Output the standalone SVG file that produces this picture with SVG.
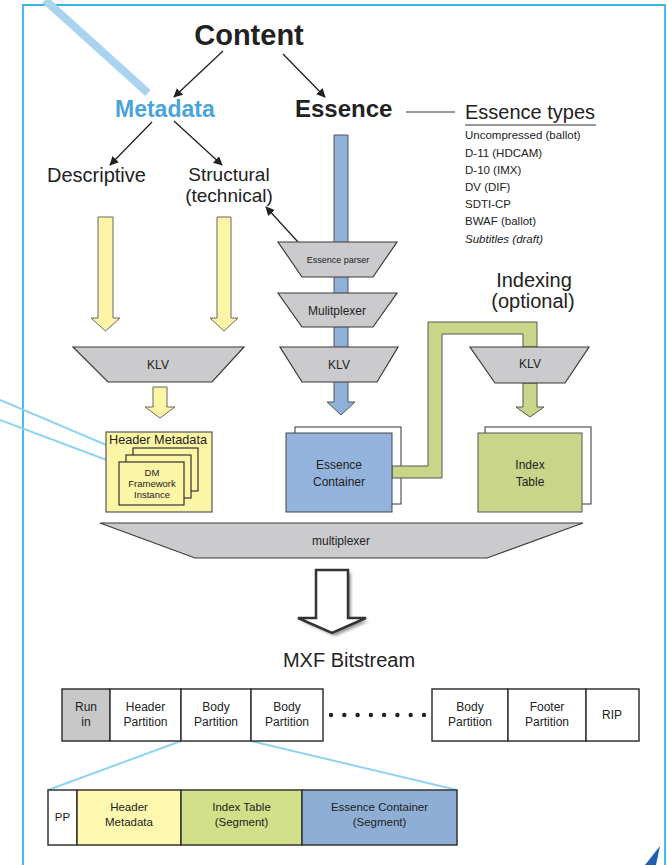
<svg xmlns="http://www.w3.org/2000/svg" width="667" height="865" viewBox="0 0 667 865">
<defs>
<style>
text{font-family:"Liberation Sans",Arial,sans-serif;fill:#222}
.trap{fill:#cbcbcd;stroke:#3a3a3a;stroke-width:1.2}
.yel{fill:#fdf5a6;stroke:#666;stroke-width:1}
.grn{fill:#c9d68a;stroke:#555;stroke-width:1}
.blu{fill:#93b3dc;stroke:#444;stroke-width:1}
.sheet{fill:#fff;stroke:#333;stroke-width:1}
.cell{stroke:#333;stroke-width:1.5}
.conn{stroke:#222;stroke-width:1.3;fill:none;marker-end:url(#ah)}
.lb{stroke:#8fd3f3;stroke-width:2;fill:none}
.c{text-anchor:middle}
</style>
<marker id="ah" viewBox="0 0 10 10" refX="9" refY="5" markerWidth="9" markerHeight="9" markerUnits="userSpaceOnUse" orient="auto"><path d="M0,0 L10,5 L0,10 Z" fill="#222"/></marker>
<filter id="sh" x="-20%" y="-20%" width="150%" height="150%"><feGaussianBlur stdDeviation="1.5"/></filter>
</defs>
<rect width="667" height="865" fill="#fff"/>
<g id="frame">
<path d="M23,865 L23,5 L665,5 L665,865" fill="none" stroke="#33b5ea" stroke-width="1.8"/>
<line x1="45" y1="0" x2="148" y2="93" stroke="#a9d3ef" stroke-width="8"/>
<polygon points="645,865 660,846 656,865" fill="#1f5fb0"/>
</g>
<g id="connectors">
<line class="conn" x1="223" y1="51" x2="174" y2="97"/>
<line class="conn" x1="283" y1="54" x2="325" y2="97"/>
<line class="conn" x1="152" y1="122" x2="110" y2="165"/>
<line class="conn" x1="174" y1="121" x2="222" y2="165"/>
<line class="conn" x1="298" y1="242" x2="266" y2="207"/>
<line x1="406" y1="112" x2="455" y2="112" stroke="#333" stroke-width="1"/>
<path class="yel" d="M98,217 L113,217 L113,318 L120,318 L105.5,331 L91,318 L98,318 Z"/>
<path class="yel" d="M217,217 L231,217 L231,318 L238,318 L224,331 L210,318 L217,318 Z"/>
<path class="yel" d="M153,387 L167,387 L167,407 L175,407 L160,418 L145,407 L153,407 Z"/>
<path d="M334,135 L348,135 L348,402 L355,402 L341,415 L327,402 L334,402 Z" fill="#8fb0d9" stroke="#555" stroke-width="1"/>
<path class="grn" d="M523,383 L537,383 L537,407 L544,407 L530,417 L516,407 L523,407 Z"/>
<line class="lb" x1="0" y1="400" x2="137" y2="458"/>
<line class="lb" x1="0" y1="420" x2="128" y2="468"/>
<line class="lb" x1="181" y1="741" x2="48" y2="790"/>
<line class="lb" x1="251" y1="741" x2="457" y2="790"/>
<path d="M319,573 L351,573 L351,621 L369,621 L335,636 L301,621 L319,621 Z" fill="#999" filter="url(#sh)"/>
<path d="M316,570 L348,570 L348,618 L366,618 L332,633 L298,618 L316,618 Z" fill="#fff" stroke="#333" stroke-width="2.5" stroke-linejoin="miter"/>
</g>
<g id="content"><text class="c" x="249" y="45" font-size="29" font-weight="bold" fill="#1a1a1a">Content</text></g>
<g id="metadata"><text x="115" y="117" font-size="23" font-weight="bold" style="fill:#4aa3dc">Metadata</text></g>
<g id="essence"><text x="295" y="117" font-size="24" font-weight="bold">Essence</text></g>
<g id="essence-types">
<text x="465" y="119" font-size="20">Essence types</text>
<line x1="465" y1="125" x2="596" y2="125" stroke="#333" stroke-width="1.2"/>
<text x="465" y="139" font-size="11.5">Uncompressed (ballot)</text>
<text x="465" y="157" font-size="11.5">D-11 (HDCAM)</text>
<text x="465" y="174" font-size="11.5">D-10 (IMX)</text>
<text x="465" y="191" font-size="11.5">DV (DIF)</text>
<text x="465" y="208" font-size="11.5">SDTI-CP</text>
<text x="465" y="225" font-size="11.5">BWAF (ballot)</text>
<text x="465" y="243" font-size="11.5" font-style="italic">Subtitles (draft)</text>
</g>
<g id="descriptive"><text x="47" y="182" font-size="20">Descriptive</text></g>
<g id="structural"><text x="229" y="181" font-size="19" class="c">Structural</text><text x="229" y="202" font-size="19" class="c">(technical)</text></g>
<g id="essence-parser"><path class="trap" d="M278,242 L397,242 L373,277 L302,277 Z"/><text class="c" x="338" y="263" font-size="9">Essence parser</text></g>
<g id="mux-essence"><path class="trap" d="M278,293 L397,293 L373,327 L302,327 Z"/><text class="c" x="337" y="315" font-size="12">Mulitplexer</text></g>
<g id="klv-essence"><path class="trap" d="M280,347 L398,347 L377,382 L302,382 Z"/><text class="c" x="339" y="369" font-size="12">KLV</text></g>
<g id="klv-metadata"><path class="trap" d="M73,347 L244,347 L212,382 L108,382 Z"/><text class="c" x="158" y="369" font-size="12">KLV</text></g>
<g id="indexing-label"><text class="c" x="534" y="287" font-size="20">Indexing</text><text class="c" x="533" y="308" font-size="20">(optional)</text></g>
<g id="essence-container">
<rect class="sheet" x="295" y="427" width="106" height="77"/>
<path class="grn" d="M392,466 L428,466 L428,322 L537,322 L537,347 L523,347 L523,334 L442,334 L442,478 L392,478 Z"/>
<rect class="blu" x="286" y="433" width="106" height="79"/>
<text class="c" x="339" y="469" font-size="12">Essence</text>
<text class="c" x="339" y="486" font-size="12">Container</text>
</g>
<g id="klv-index"><path class="trap" d="M470,347 L589,347 L565,383 L495,383 Z"/><text class="c" x="530" y="368" font-size="12">KLV</text></g>
<g id="index-table">
<rect class="sheet" x="485" y="427" width="106" height="77"/>
<rect class="grn" x="478" y="433" width="104" height="79"/>
<text class="c" x="530" y="469" font-size="12">Index</text>
<text class="c" x="530" y="486" font-size="12">Table</text>
</g>
<g id="header-metadata">
<rect x="106" y="432" width="106" height="80" fill="#fdf5a6" stroke="#555" stroke-width="1.2"/>
<text class="c" x="158" y="444" font-size="12.7">Header Metadata</text>
<rect x="133" y="448" width="65" height="43" fill="#fdf5a6" stroke="#333" stroke-width="1.2"/>
<rect x="126" y="455" width="65" height="43" fill="#fdf5a6" stroke="#333" stroke-width="1.2"/>
<rect x="119" y="462" width="65" height="43" fill="#fdf5a6" stroke="#333" stroke-width="1.2"/>
<text class="c" x="152" y="476" font-size="9.5">DM</text>
<text class="c" x="152" y="487" font-size="9.5">Framework</text>
<text class="c" x="152" y="498" font-size="9.5">Instance</text>
</g>
<g id="multiplexer"><path class="trap" d="M100,523 L583,523 L487,558 L195,558 Z"/><text class="c" x="341" y="545" font-size="12">multiplexer</text></g>
<g id="mxf-bitstream"><text class="c" x="349" y="667" font-size="20">MXF Bitstream</text></g>
<g id="partitions" font-size="12">
<rect class="cell" x="62" y="689" width="48" height="52" fill="#c8c8c8"/>
<rect class="cell" x="110" y="689" width="71" height="52" fill="#fff"/>
<rect class="cell" x="181" y="689" width="70" height="52" fill="#fff"/>
<rect class="cell" x="251" y="689" width="72" height="52" fill="#fff"/>
<rect class="cell" x="432" y="689" width="76" height="52" fill="#fff"/>
<rect class="cell" x="508" y="689" width="78" height="52" fill="#fff"/>
<rect class="cell" x="586" y="689" width="53" height="52" fill="#fff"/>
<text class="c" x="86" y="711">Run</text><text class="c" x="86" y="726">in</text>
<text class="c" x="145.5" y="711">Header</text><text class="c" x="145.5" y="726">Partition</text>
<text class="c" x="216" y="711">Body</text><text class="c" x="216" y="726">Partition</text>
<text class="c" x="287" y="711">Body</text><text class="c" x="287" y="726">Partition</text>
<text class="c" x="470" y="711">Body</text><text class="c" x="470" y="726">Partition</text>
<text class="c" x="547" y="711">Footer</text><text class="c" x="547" y="726">Partition</text>
<text class="c" x="612" y="719">RIP</text>
<g fill="#222"><circle cx="331" cy="715" r="2.2"/><circle cx="344.3" cy="715" r="2.2"/><circle cx="357.6" cy="715" r="2.2"/><circle cx="370.9" cy="715" r="2.2"/><circle cx="384.1" cy="715" r="2.2"/><circle cx="397.4" cy="715" r="2.2"/><circle cx="410.7" cy="715" r="2.2"/><circle cx="424" cy="715" r="2.2"/></g>
</g>
<g id="body-partition-detail" font-size="11.5">
<rect class="cell" x="48" y="790" width="29" height="55" fill="#fff"/>
<rect class="cell" x="77" y="790" width="104" height="55" fill="#fff9b0"/>
<rect class="cell" x="181" y="790" width="121" height="55" fill="#d2e08a"/>
<rect class="cell" x="302" y="790" width="155" height="55" fill="#8eaed6"/>
<text class="c" x="62.5" y="821">PP</text>
<text class="c" x="129" y="811">Header</text><text class="c" x="129" y="826">Metadata</text>
<text class="c" x="241.5" y="811">Index Table</text><text class="c" x="241.5" y="826">(Segment)</text>
<text class="c" x="379.5" y="811">Essence Container</text><text class="c" x="379.5" y="826">(Segment)</text>
</g>
</svg>
